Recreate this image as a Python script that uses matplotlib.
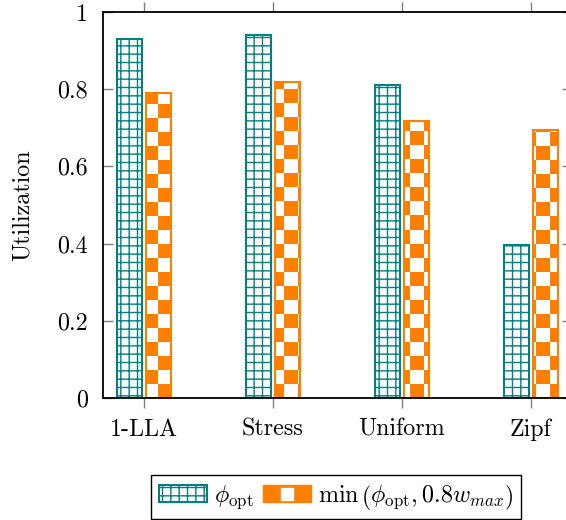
import numpy as np
import matplotlib
matplotlib.use("Agg")
import matplotlib.pyplot as plt
from matplotlib.patches import Patch
from matplotlib.lines import Line2D
from matplotlib.legend_handler import HandlerTuple

plt.rcParams['font.family'] = 'serif'
plt.rcParams['font.serif'] = ['cmr10']
plt.rcParams['mathtext.fontset'] = 'cm'
plt.rcParams['axes.formatter.use_mathtext'] = True
plt.rcParams['hatch.linewidth'] = 1.0

kategori = ["1-LLA", "Stress", "Uniform", "Zipf"]
phi_opt = [0.930, 0.940, 0.811, 0.396]
phi_min = [0.790, 0.819, 0.718, 0.694]
yticks = [0, 0.2, 0.4, 0.6, 0.8, 1]
ytick_labels = ["0", "0.2", "0.4", "0.6", "0.8", "1"]

teal = "#008080"
oranye = "#ff8000"
fs = 17.3

fig = plt.figure(figsize=(5.66, 5.2), dpi=100)
ax = fig.add_axes([103 / 566, 122 / 520, 469 / 566, 386 / 520])

x = np.arange(len(kategori))
w = 0.19
off = 0.112

ax.bar(x - off, phi_opt, w, facecolor="white", edgecolor=teal, hatch="++",
       linewidth=1.5, zorder=2)
bars2 = ax.bar(x + off, phi_min, w, facecolor="none", edgecolor=oranye,
               linewidth=1.5, zorder=2)

# checkerboard fill, clipped to each orange bar
cx = 14 / 129
cy = 14 / 386
for r in bars2:
    x0, x1 = r.get_x(), r.get_x() + r.get_width()
    h = r.get_height()
    i0, i1 = int(np.floor(x0 / cx)), int(np.ceil(x1 / cx))
    j1 = int(np.ceil(h / cy))
    ii, jj = np.meshgrid(np.arange(i0, i1), np.arange(0, j1))
    papan = (ii + jj) % 2
    img = np.ones((j1, i1 - i0, 3))
    img[papan == 1] = [1.0, 128 / 255, 0.0]
    im = ax.imshow(img, extent=[i0 * cx, i1 * cx, 0, j1 * cy], origin="lower",
                   interpolation="nearest", aspect="auto", zorder=1.5)
    im.set_clip_path(r)

ax.set_xlim(-0.318, 3.318)
ax.set_ylim(0, 1)
ax.set_xticks(x)
ax.set_xticklabels(kategori, fontsize=fs)
ax.set_yticks(yticks)
ax.set_yticklabels(ytick_labels, fontsize=fs)
ax.tick_params(axis="x", direction="out", length=7, width=1, color="#808080",
               top=True, pad=8)
ax.tick_params(axis="y", direction="in", length=7, width=1, color="#808080",
               right=True, pad=11)
for s in ax.spines.values():
    s.set_linewidth(1.3)
    s.set_color("black")

ax.set_ylabel("Utilization", fontsize=fs, labelpad=17)

h1 = Patch(facecolor="white", edgecolor=teal, hatch="++", linewidth=1.5)
h2 = (Patch(facecolor=oranye, edgecolor=oranye),
      Line2D([], [], marker="s", color="white", linestyle="", markersize=9))
fig.legend([h1, h2], [r"$\phi_{\mathrm{opt}}$",
                      r"$\min\,\left(\phi_{\mathrm{opt}}, 0.8w_{max}\right)$"],
           handler_map={tuple: HandlerTuple(ndivide=1)},
           loc="center", bbox_to_anchor=(336 / 566, 1 - 497 / 520), ncol=2,
           fontsize=fs, frameon=True, fancybox=False, edgecolor="black",
           framealpha=1, handlelength=2.0, handletextpad=0.3,
           columnspacing=0.4, borderpad=0.3)

plt.savefig("out.png", dpi=100)
